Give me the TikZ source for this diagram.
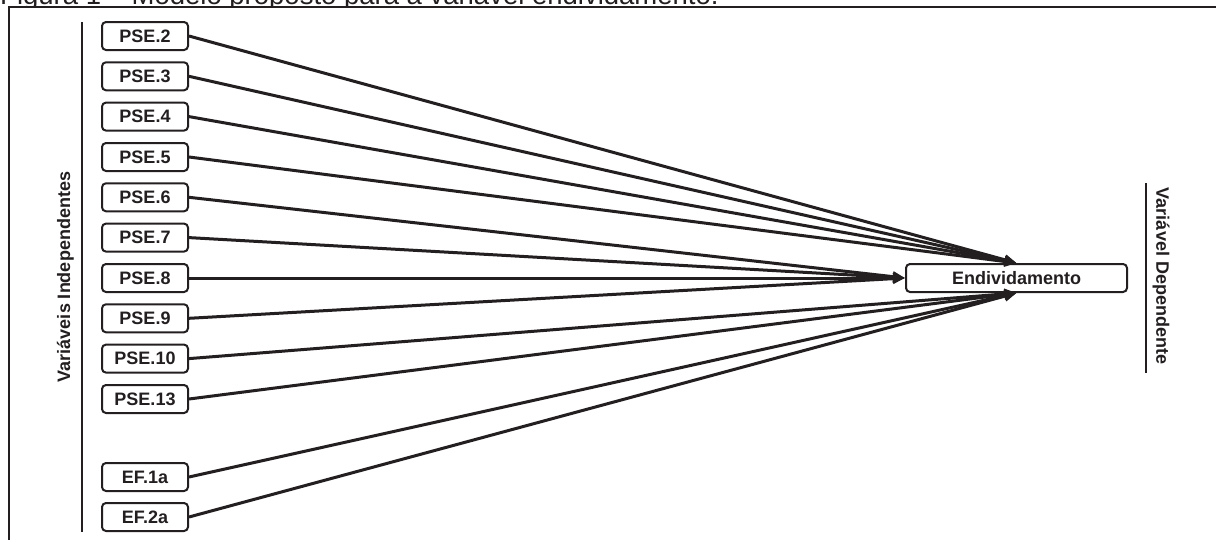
\documentclass[tikz,border=0pt]{standalone}
\usepackage{fontspec}
\setmainfont{Liberation Sans}
\usetikzlibrary{arrows.meta}
\definecolor{ink}{RGB}{35,31,32}
\begin{document}
\begin{tikzpicture}[x=1pt,y=-1pt,
  varbox/.style={draw=ink,line width=2pt,rounded corners=4pt,minimum width=86pt,minimum height=28pt,inner sep=0pt,
    font=\fontsize{18}{20}\selectfont\bfseries,text=ink},
  depbox/.style={varbox,minimum width=221pt},
  conn/.style={draw=ink,line width=3pt,-{Triangle[length=12pt,width=10pt]}},
  rule/.style={draw=ink,line width=2pt},
  sidelabel/.style={font=\fontsize{18}{20}\selectfont\bfseries,text=ink,inner sep=0pt}]
\useasboundingbox (0,0) rectangle (1216,539);
\clip (0,0) rectangle (1216,539);
% caption (cropped at top)
\node[anchor=base west,inner sep=0pt,font=\fontsize{27.5}{30}\selectfont,text=ink] (cap) at (0,4) {Figura 1 -- Modelo proposto para a variável endividamento.};
% frame
\coordinate (ftl) at (8.5,6.5);
\coordinate (ftr) at (1220,6.5);
\coordinate (fbl) at (8.5,545);
\fill[white] (ftl) rectangle (1220,545);
\draw[rule] (ftr) -- (ftl) -- (fbl);
% side rules
\coordinate (la) at (82,22);
\coordinate (lb) at (82,532);
\draw[rule] (la) -- (lb);
\coordinate (ra) at (1146,183);
\coordinate (rb) at (1146,373);
\draw[rule] (ra) -- (rb);
% side labels
\node[sidelabel,rotate=90] (indep) at (65.5,277) {Variáveis Independentes};
\node[sidelabel,rotate=-90] (dep) at (1161,276) {Variável Dependente};
% boxes
\node[varbox] (p2) at (145,36) {PSE.2};
\node[varbox] (p3) at (145,76.3) {PSE.3};
\node[varbox] (p4) at (145,116.6) {PSE.4};
\node[varbox] (p5) at (145,157) {PSE.5};
\node[varbox] (p6) at (145,197.3) {PSE.6};
\node[varbox] (p7) at (145,237.6) {PSE.7};
\node[varbox] (p8) at (145,278) {PSE.8};
\node[varbox] (p9) at (145,318.3) {PSE.9};
\node[varbox] (p10) at (145,358.6) {PSE.10};
\node[varbox] (p13) at (145,399) {PSE.13};
\node[varbox] (e1) at (145,477) {EF.1a};
\node[varbox] (e2) at (145,517) {EF.2a};
\node[depbox] (endv) at (1016.5,278) {Endividamento};
% connectors
\foreach \s in {p2,p3,p4,p5} \draw[conn] (\s.east) -- (endv.north);
\foreach \s in {p6,p7,p8,p9} \draw[conn] (\s.east) -- (endv.west);
\foreach \s in {p10,p13,e1,e2} \draw[conn] (\s.east) -- (endv.south);
\end{tikzpicture}
\end{document}
